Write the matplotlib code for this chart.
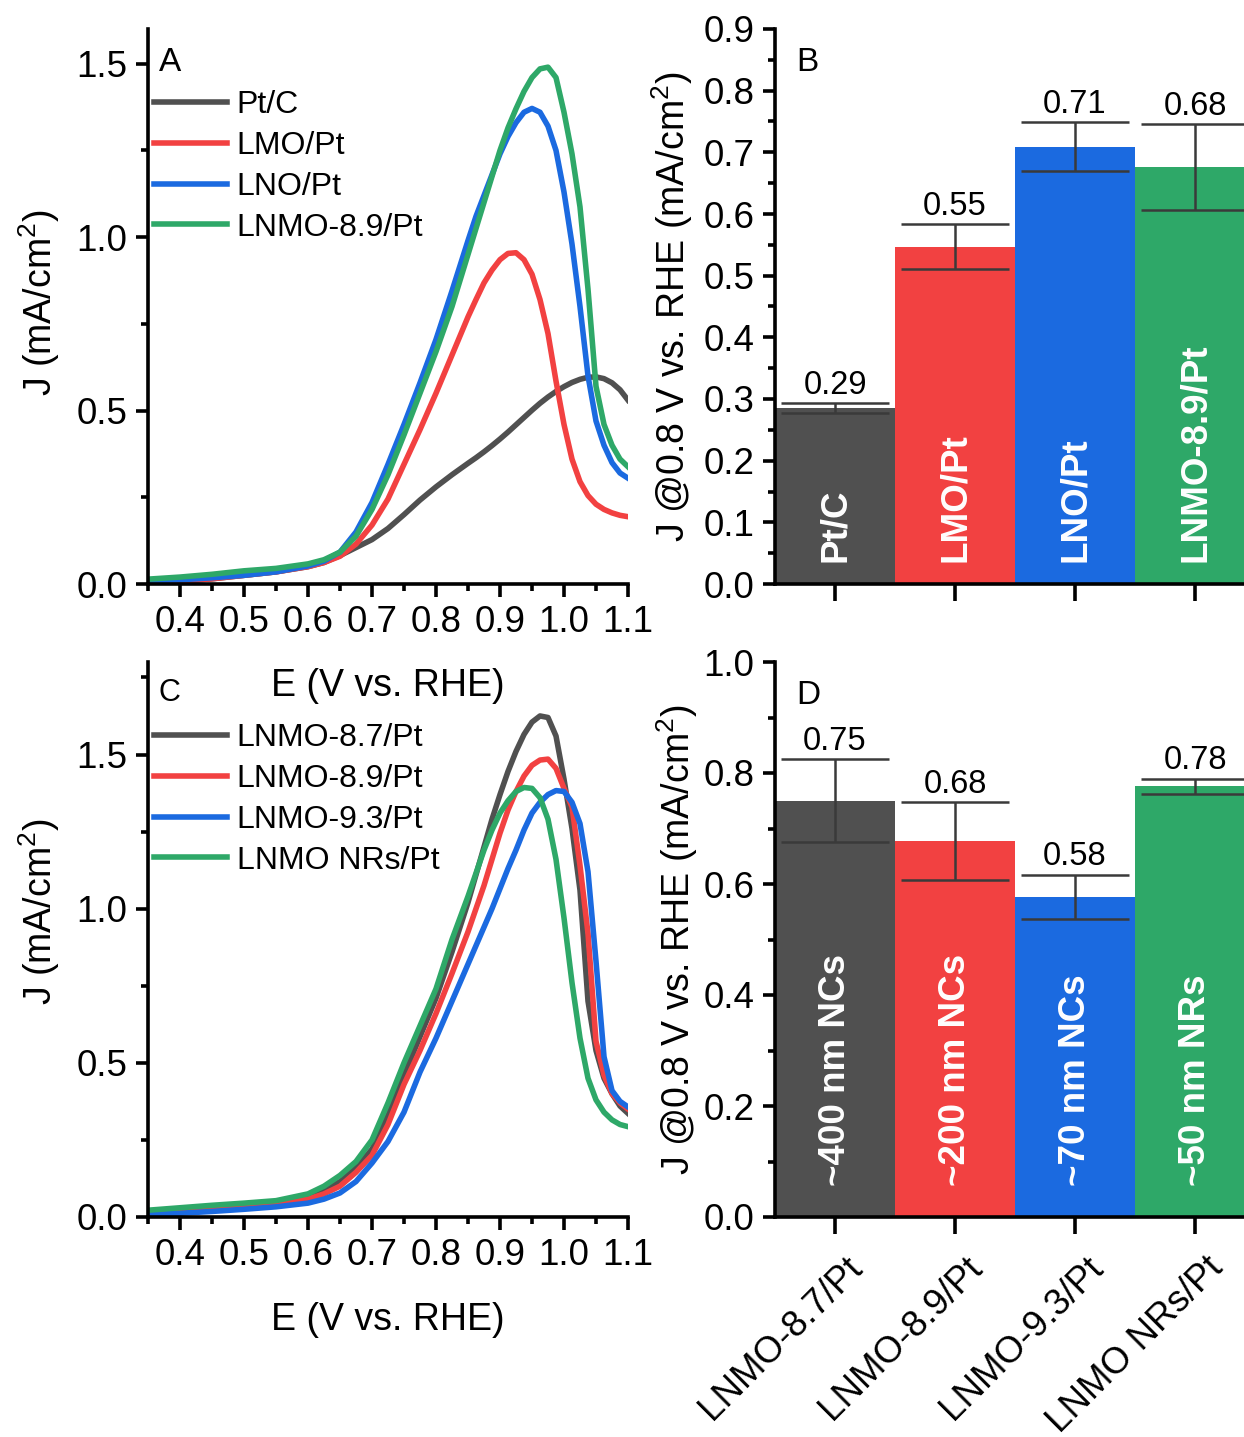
import matplotlib
matplotlib.use('Agg')
import matplotlib.pyplot as plt
import matplotlib.transforms as mtransforms
from matplotlib.ticker import MultipleLocator

plt.rcParams['font.family'] = ['Liberation Sans', 'DejaVu Sans']
plt.rcParams['mathtext.fontset'] = 'custom'
plt.rcParams['mathtext.rm'] = 'Liberation Sans'
plt.rcParams['mathtext.it'] = 'Liberation Sans:italic'

# ---------------- data ----------------
E_grid = [0.35, 0.40, 0.45, 0.50, 0.55, 0.60, 0.625, 0.65, 0.675, 0.70, 0.725, 0.75, 0.775,
          0.80, 0.825, 0.85, 0.8625, 0.875, 0.8875, 0.90, 0.9125, 0.925, 0.9375, 0.95, 0.9625,
          0.975, 0.9875, 1.00, 1.0125, 1.025, 1.0375, 1.05, 1.0625, 1.075, 1.0875, 1.10]

# Panel A
J_PtC = [0.005, 0.008, 0.015, 0.025, 0.035, 0.050, 0.062, 0.082, 0.105, 0.128, 0.160, 0.200, 0.242,
         0.280, 0.315, 0.348, 0.364, 0.381, 0.399, 0.418, 0.438, 0.459, 0.480, 0.501, 0.521,
         0.539, 0.555, 0.569, 0.581, 0.590, 0.596, 0.597, 0.592, 0.580, 0.560, 0.530]
J_LMO = [0.005, 0.008, 0.015, 0.025, 0.035, 0.050, 0.062, 0.080, 0.115, 0.170, 0.245, 0.345, 0.445,
         0.550, 0.660, 0.770, 0.820, 0.868, 0.905, 0.935, 0.953, 0.955, 0.935, 0.893, 0.820,
         0.722, 0.585, 0.460, 0.360, 0.295, 0.255, 0.230, 0.215, 0.205, 0.198, 0.194]
J_LNO = [0.010, 0.012, 0.018, 0.025, 0.035, 0.052, 0.066, 0.092, 0.150, 0.235, 0.345, 0.460, 0.580,
         0.705, 0.845, 0.990, 1.060, 1.120, 1.180, 1.240, 1.290, 1.330, 1.360, 1.371, 1.360,
         1.320, 1.250, 1.130, 0.980, 0.800, 0.600, 0.470, 0.400, 0.350, 0.320, 0.305]
J_LNMO89_A = [0.014, 0.020, 0.028, 0.038, 0.045, 0.058, 0.070, 0.092, 0.138, 0.215, 0.315, 0.430, 0.550,
              0.670, 0.800, 0.950, 1.025, 1.100, 1.175, 1.250, 1.315, 1.370, 1.420, 1.460, 1.485,
              1.490, 1.460, 1.360, 1.240, 1.087, 0.850, 0.570, 0.460, 0.400, 0.360, 0.338]

# Panel C
J_LNMO87 = [0.015, 0.022, 0.030, 0.038, 0.045, 0.065, 0.085, 0.115, 0.160, 0.220, 0.330, 0.460, 0.585,
            0.710, 0.860, 1.020, 1.110, 1.200, 1.290, 1.370, 1.445, 1.510, 1.565, 1.605, 1.625,
            1.620, 1.560, 1.420, 1.260, 1.060, 0.700, 0.540, 0.450, 0.400, 0.360, 0.336]
J_LNMO89_C = [0.012, 0.020, 0.028, 0.035, 0.042, 0.058, 0.075, 0.100, 0.145, 0.200, 0.300, 0.430, 0.540,
              0.660, 0.790, 0.925, 1.000, 1.075, 1.160, 1.245, 1.320, 1.380, 1.430, 1.465, 1.482,
              1.485, 1.455, 1.390, 1.330, 1.140, 0.920, 0.570, 0.460, 0.400, 0.370, 0.350]
J_LNMO93 = [0.008, 0.012, 0.018, 0.025, 0.033, 0.045, 0.058, 0.078, 0.115, 0.175, 0.245, 0.340, 0.470,
            0.580, 0.700, 0.820, 0.880, 0.940, 1.000, 1.065, 1.130, 1.190, 1.255, 1.310, 1.345,
            1.370, 1.383, 1.380, 1.345, 1.276, 1.120, 0.830, 0.520, 0.410, 0.375, 0.357]
J_NRs = [0.022, 0.030, 0.038, 0.045, 0.053, 0.075, 0.100, 0.135, 0.180, 0.250, 0.370, 0.500, 0.620,
         0.740, 0.900, 1.040, 1.115, 1.190, 1.255, 1.310, 1.350, 1.380, 1.393, 1.390, 1.360,
         1.290, 1.160, 0.970, 0.760, 0.580, 0.450, 0.380, 0.340, 0.315, 0.300, 0.293]

# Panel B
B_names = ["Pt/C", "LMO/Pt", "LNO/Pt", "LNMO-8.9/Pt"]
B_values = [0.285, 0.547, 0.709, 0.676]
B_errors = [0.008, 0.037, 0.040, 0.070]
B_labels = ["0.29", "0.55", "0.71", "0.68"]

# Panel D
D_ticklabels = ["LNMO-8.7/Pt", "LNMO-8.9/Pt", "LNMO-9.3/Pt", "LNMO NRs/Pt"]
D_names = ["~400 nm NCs", "~200 nm NCs", "~70 nm NCs", "~50 nm NRs"]
D_values = [0.750, 0.677, 0.577, 0.776]
D_errors = [0.075, 0.070, 0.040, 0.014]
D_labels = ["0.75", "0.68", "0.58", "0.78"]

# ---------------- style ----------------
GRAY = '#505050'
RED = '#F24141'
BLUE = '#1B6AE0'
GREEN = '#2EA868'
ERR = '#3a3a3a'

TICK_FS = 26.5
LABEL_FS = 27
LEG_FS = 23
LW = 4.0

fig = plt.figure(figsize=(12.44, 14.37), dpi=100)
W, H = 1244.0, 1437.0


def px_axes(x0, y_top, x1, y_bot):
    return fig.add_axes([x0 / W, 1 - y_bot / H, (x1 - x0) / W, (y_bot - y_top) / H])


axA = px_axes(148, 29, 628, 584)
axB = px_axes(775, 29, 1244, 584)
axC = px_axes(148, 662, 628, 1217)
axD = px_axes(775, 662, 1244, 1217)
for ax in (axA, axB, axC, axD):
    ax.set_facecolor('none')


def style(ax):
    for s in ['top', 'right']:
        ax.spines[s].set_visible(False)
    for s in ['left', 'bottom']:
        ax.spines[s].set_linewidth(2.6)
    ax.tick_params(which='major', direction='out', length=9, width=2.6,
                   labelsize=TICK_FS, pad=6)
    ax.tick_params(which='minor', direction='out', length=5, width=2.6)


ylab = 'J (mA/cm$^2$)'
xlab = 'E (V vs. RHE)'
blab = 'J @0.8 V vs. RHE (mA/cm$^2$)'
leg_kw = dict(loc='upper left', bbox_to_anchor=(0.012, 0.89), frameon=False, fontsize=LEG_FS,
              handlelength=2.3, handletextpad=0.3, labelspacing=0.34, borderpad=0,
              borderaxespad=0)

# ---- Panel A ----
for J, c, lab in [(J_PtC, GRAY, 'Pt/C'), (J_LMO, RED, 'LMO/Pt'),
                  (J_LNO, BLUE, 'LNO/Pt'), (J_LNMO89_A, GREEN, 'LNMO-8.9/Pt')]:
    axA.plot(E_grid, J, color=c, lw=LW, label=lab, solid_joinstyle='round')
axA.set_xlim(0.35, 1.1)
axA.set_ylim(0, 1.6)
axA.set_xticks([0.4, 0.5, 0.6, 0.7, 0.8, 0.9, 1.0, 1.1])
axA.xaxis.set_minor_locator(MultipleLocator(0.05))
axA.yaxis.set_major_locator(MultipleLocator(0.5))
axA.yaxis.set_minor_locator(MultipleLocator(0.25))
style(axA)
axA.set_xlabel(xlab, fontsize=LABEL_FS, va='center')
axA.xaxis.set_label_coords(0.5, -0.184)
axA.set_ylabel(ylab, fontsize=LABEL_FS, va='center')
axA.yaxis.set_label_coords(-0.227, 0.506)
axA.text(0.022, 0.94, 'A', transform=axA.transAxes, fontsize=24, ha='left', va='center')
axA.legend(**leg_kw)

# ---- Panel C ----
for J, c, lab in [(J_LNMO87, GRAY, 'LNMO-8.7/Pt'), (J_LNMO89_C, RED, 'LNMO-8.9/Pt'),
                  (J_LNMO93, BLUE, 'LNMO-9.3/Pt'), (J_NRs, GREEN, 'LNMO NRs/Pt')]:
    axC.plot(E_grid, J, color=c, lw=LW, label=lab, solid_joinstyle='round')
axC.set_xlim(0.35, 1.1)
axC.set_ylim(0, 1.8)
axC.set_xticks([0.4, 0.5, 0.6, 0.7, 0.8, 0.9, 1.0, 1.1])
axC.xaxis.set_minor_locator(MultipleLocator(0.05))
axC.yaxis.set_major_locator(MultipleLocator(0.5))
axC.yaxis.set_minor_locator(MultipleLocator(0.25))
style(axC)
axC.set_xlabel(xlab, fontsize=LABEL_FS, va='center')
axC.xaxis.set_label_coords(0.5, -0.186)
axC.set_ylabel(ylab, fontsize=LABEL_FS, va='center')
axC.yaxis.set_label_coords(-0.227, 0.55)
axC.text(0.022, 0.945, 'C', transform=axC.transAxes, fontsize=22, ha='left', va='center')
axC.legend(**leg_kw)


# ---- bar panels ----
def bars(ax, values, errors, labels, names, colors, ylim, major, minor, name_y):
    x = list(range(len(values)))
    ax.bar(x, values, width=1.0, color=colors, edgecolor='none', zorder=2)
    ax.errorbar(x, values, yerr=errors, fmt='none', ecolor=ERR, elinewidth=1.8,
                capsize=39, capthick=1.8, zorder=3)
    for xi, v, e, lab, nm in zip(x, values, errors, labels, names):
        ax.annotate(lab, (xi, v + e), xytext=(0, 1.5), textcoords='offset points',
                    ha='center', va='bottom', fontsize=23.5)
        ax.text(xi, name_y, nm, rotation=90, ha='center', va='bottom', color='white',
                fontsize=26.5, fontweight='bold', zorder=4)
    ax.set_xlim(-0.5, 3.408)
    ax.set_ylim(*ylim)
    ax.set_xticks(x)
    ax.yaxis.set_major_locator(MultipleLocator(major))
    ax.yaxis.set_minor_locator(MultipleLocator(minor))
    style(ax)
    ax.tick_params(axis='x', which='major', length=12)


colors4 = [GRAY, RED, BLUE, GREEN]
bars(axB, B_values, B_errors, B_labels, B_names, colors4, (0, 0.9), 0.1, 0.05, 0.035)
axB.set_xticklabels([''] * 4)
axB.set_ylabel(blab, fontsize=LABEL_FS, va='center')
axB.yaxis.set_label_coords(-0.22, 0.5)
axB.text(0.045, 0.94, 'B', transform=axB.transAxes, fontsize=24, ha='left', va='center')

bars(axD, D_values, D_errors, D_labels, D_names, colors4, (0, 1.0), 0.2, 0.1, 0.055)
axD.set_xticklabels(D_ticklabels, rotation=45, ha='right', va='top', rotation_mode='anchor',
                    fontsize=TICK_FS)
offset = mtransforms.ScaledTranslation(10 / 100, -8 / 100, fig.dpi_scale_trans)
for lab in axD.get_xticklabels():
    lab.set_transform(lab.get_transform() + offset)
axD.set_ylabel(blab, fontsize=LABEL_FS, va='center')
axD.yaxis.set_label_coords(-0.208, 0.5)
axD.text(0.045, 0.94, 'D', transform=axD.transAxes, fontsize=24, ha='left', va='center')

fig.savefig('out.png', dpi=100)
